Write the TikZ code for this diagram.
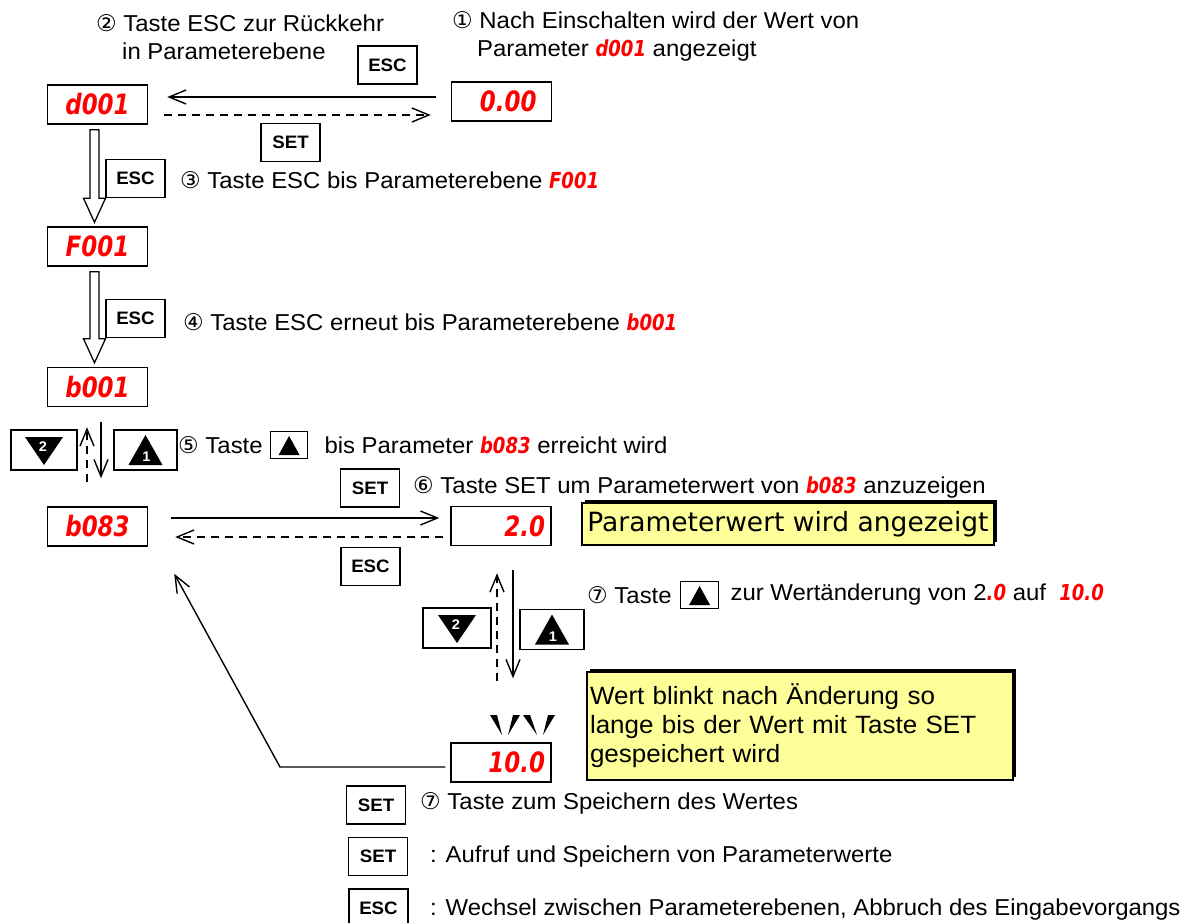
\documentclass[tikz,border=0pt]{standalone}
\usepackage{fontspec}
\setmainfont{Liberation Sans}[FakeStretch=1.04]
\newfontfamily\symfont{DejaVu Sans}
\newfontfamily\notefont{DejaVu Sans}
\newfontfamily\segfont{DejaVu Sans}[FakeStretch=0.82]
\usetikzlibrary{arrows.meta, positioning, shadows}

\definecolor{segred}{RGB}{255, 0, 0}
\definecolor{noteyellow}{RGB}{255, 255, 153}

\newcommand\nr[1]{{\symfont #1}}
\newcommand\seg[1]{{\fontsize{22}{22}\segfont\bfseries\itshape\color{segred}#1}}

\tikzset{
  disp/.style={draw, line width=1.5pt, fill=white, minimum width=100pt, minimum height=39pt, inner sep=0pt, text=segred, font=\fontsize{28}{28}\segfont\bfseries\itshape},
  disp right/.style={disp, text width=88pt, align=right},
  keybox/.style={draw, line width=1.5pt, fill=white, minimum width=59pt, minimum height=38pt, inner sep=0pt, font=\fontsize{18}{18}\selectfont\bfseries},
  keynr/.style={text=white, inner sep=0pt, font=\fontsize{14}{14}\selectfont\bfseries},
  txt/.style={anchor=west, inner sep=0pt, font=\fontsize{23}{28}\selectfont},
  note/.style={draw, line width=1.5pt, fill=noteyellow, inner sep=3pt, drop shadow={shadow xshift=3pt, shadow yshift=3pt, fill=black, opacity=1}},
  arr/.style={-{Straight Barb[length=17pt, width=14pt]}, line width=1.4pt},
  dasharr/.style={arr, dash pattern=on 8pt off 6pt}
}

% up / down keys with the triangle symbol
\newcommand\upkey[4]{%
  \node[keybox, minimum width=#4, minimum height=40pt] (#1) at (#2,#3) {};
  \fill ([yshift=15pt]#1.center) -- ([xshift=-17pt,yshift=-15pt]#1.center) -- ([xshift=17pt,yshift=-15pt]#1.center) -- cycle;
  \node[keynr] (#1-nr) at ([xshift=1pt,yshift=-7pt]#1.center) {1};
}
\newcommand\downkey[4]{%
  \node[keybox, minimum width=#4, minimum height=40pt] (#1) at (#2,#3) {};
  \fill ([yshift=-15pt]#1.center) -- ([xshift=-19pt,yshift=13pt]#1.center) -- ([xshift=19pt,yshift=13pt]#1.center) -- cycle;
  \node[keynr] (#1-nr) at ([xshift=-1pt,yshift=3pt]#1.center) {2};
}
% hollow block arrow between two displays
\newcommand\hollowarrow[2]{%
  \draw[line width=1.3pt, fill=white] ([xshift=-7.5pt,yshift=-5pt]#1.south) -- ([xshift=-7.5pt,yshift=28pt]#2.north) -- ([xshift=-14pt,yshift=28pt]#2.north) -- ([xshift=-3pt,yshift=4pt]#2.north) -- ([xshift=8pt,yshift=28pt]#2.north) -- ([xshift=1.5pt,yshift=28pt]#2.north) -- ([xshift=1.5pt,yshift=-5pt]#1.south) -- cycle;
}

\begin{document}
\begin{tikzpicture}[x=1pt, y=-1pt]
\useasboundingbox (0,0) rectangle (1192,923);
\clip (0,0) rectangle (1192,923);

% displays
\node[disp] (d001) at (97.5,104.5) {d001};
\node[disp right, text width=70pt] (v000) at (501.5,101.5) {0.00};
\node[disp] (F001) at (97.5,246.5) {F001};
\node[disp] (b001) at (97.5,387) {b001};
\node[disp] (b083) at (97.5,526.5) {b083};
\node[disp right] (v20) at (501,526) {2.0};
\node[disp right] (v100) at (501,762.5) {10.0};

% keys
\node[keybox] (escA) at (387.5,65) {ESC};
\node[keybox] (setA) at (290.5,142.5) {SET};
\node[keybox] (escB) at (135.5,178.5) {ESC};
\node[keybox] (escC) at (135.5,318.5) {ESC};
\downkey{downA}{44}{450}{66pt}
\upkey{upA}{145.5}{450}{63pt}
\node[keybox] (setB) at (370,488) {SET};
\node[keybox] (escD) at (370.5,566.5) {ESC};
\downkey{downB}{457}{628}{68pt}
\upkey{upB}{552}{629.5}{64pt}
\node[keybox] (setC) at (376,805) {SET};
\node[keybox] (setD) at (378,856.5) {SET};
\node[keybox] (escE) at (378.5,908) {ESC};

% top row
\coordinate (escpath) at ([xshift=-15pt,yshift=4.5pt]v000.west);
\draw[arr, shorten >=19pt] (escpath) -- (escpath -| d001.east);
\coordinate (setpath) at ([xshift=16pt,yshift=-10.5pt]d001.east);
\draw[dasharr, shorten >=20pt] (setpath) -- (setpath -| v000.west);

% parameter levels
\hollowarrow{d001}{F001}
\hollowarrow{F001}{b001}
\draw[dasharr] ([xshift=-10.5pt,yshift=24pt]b083.north) -- ([xshift=-10.5pt,yshift=-20pt]b001.south);
\draw[arr] ([xshift=3.5pt,yshift=-15pt]b001.south) -- ([xshift=3.5pt,yshift=28pt]b083.north);

% b083 row
\coordinate (setrow) at ([xshift=23pt,yshift=8.5pt]b083.east);
\draw[arr, shorten >=11pt] (setrow) -- (setrow -| v20.west);
\coordinate (escrow) at ([xshift=-7pt,yshift=-11pt]v20.west);
\draw[dasharr, shorten >=27pt] (escrow) -- (escrow -| b083.east);

% value change
\draw[dasharr] ([xshift=-4pt,yshift=61pt]v100.north) -- ([xshift=-4pt,yshift=-27pt]v20.south);
\draw[arr] ([xshift=12pt,yshift=-24pt]v20.south) -- ([xshift=12pt,yshift=64pt]v100.north);

% blinking marks
\foreach \a/\b/\c in {490/497/502, 513/520/508, 523/530/537, 548/555/543}
  \fill (\a,715) -- (\b,715) -- (\c,735) -- cycle;

% back to parameter level
\coordinate (knee) at (280,767);
\draw[arr] ([xshift=-5pt,yshift=-4.5pt]v100.west) -- (knee) -- ([xshift=26pt,yshift=-27pt]b083.south east);

% texts
\node[txt, align=left] (hint2) at (96,37.5) {\nr{②} Taste ESC zur Rückkehr\\\hspace{26pt}in Parameterebene};
\node[txt, align=left] (hint1) at (452,36.5) {\nr{①} Nach Einschalten wird der Wert von\\\hspace{25pt}Parameter \seg{d001} angezeigt};
\node[txt] (hint3) at (180,180) {\nr{③} Taste ESC bis Parameterebene \seg{F001}};
\node[txt] (hint4) at (183,322) {\nr{④} Taste ESC erneut bis Parameterebene \seg{b001}};
\node[txt] (hint5) at (178,445) {\nr{⑤} Taste};
\node[keybox, minimum width=37pt, minimum height=27pt, right=7pt of hint5] (key5) {};
\fill ([yshift=9pt]key5.center) -- ([xshift=-10.5pt,yshift=-10pt]key5.center) -- ([xshift=10.5pt,yshift=-10pt]key5.center) -- cycle;
\node[txt, right=16pt of key5] (hint5b) {bis Parameter \seg{b083} erreicht wird};
\node[txt] (hint6) at (413,487) {\nr{⑥} Taste SET um Parameterwert von \seg{b083} anzuzeigen};
\node[txt] (hint7) at (587,595) {\nr{⑦} Taste};
\node[keybox, minimum width=38pt, minimum height=27pt, right=8pt of hint7] (key7) {};
\fill ([yshift=9pt]key7.center) -- ([xshift=-10.5pt,yshift=-10pt]key7.center) -- ([xshift=10.5pt,yshift=-10pt]key7.center) -- cycle;
\node[txt, right=11pt of key7] (hint7b) {zur Wertänderung von 2\seg{.0} auf\ \ \seg{10.0}};
\node[txt] (hint8) at (420,803) {\nr{⑦} Taste zum Speichern des Wertes};
\node[txt] (hint9) at (430,857) {: Aufruf und Speichern von Parameterwerte};
\node[txt] (hint10) at (430,910) {: Wechsel zwischen Parameterebenen, Abbruch des Eingabevorgangs};

% notes
\node[note, minimum width=412pt, minimum height=42pt, font=\notefont\fontsize{26.5}{30}\selectfont] (info1) at (788,524) {Parameterwert wird angezeigt};
\node[note, text width=420pt, align=left, minimum height=108pt, font=\fontsize{25}{29}\selectfont] (info2) at (800,726) {Wert blinkt nach Änderung so\\lange bis der Wert mit Taste SET\\gespeichert wird};
\end{tikzpicture}
\end{document}
